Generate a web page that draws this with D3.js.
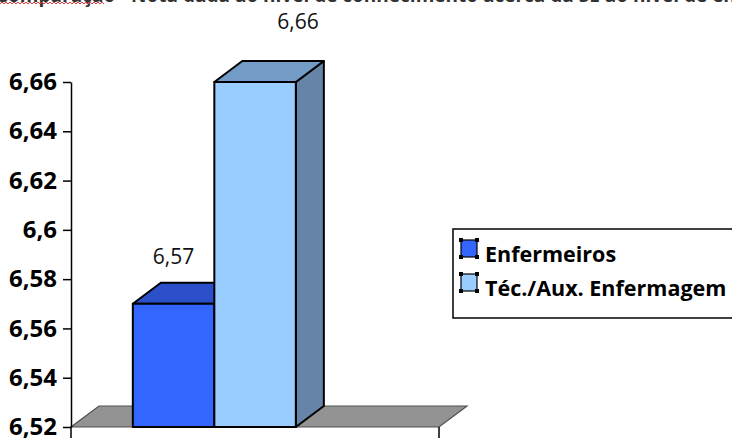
<!DOCTYPE html>
<html>
<head>
<meta charset="utf-8">
<script src="https://cdn.jsdelivr.net/npm/d3@7"></script>
<style>
  html, body { margin: 0; padding: 0; background: #fff; }
  svg { display: block; }
</style>
</head>
<body>
<svg id="chart" width="732" height="438"></svg>
<script>
// Nota média por categoria profissional
const categories = ["Nota"];
const seriesNames = ["Enfermeiros", "Téc./Aux. Enfermagem"];
const seriesValues = [6.57, 6.66];
const valueLabels = ["6,57", "6,66"];
const yTickValues = [6.52, 6.54, 6.56, 6.58, 6.6, 6.62, 6.64, 6.66];
const yTickLabels = ["6,52", "6,54", "6,56", "6,58", "6,6", "6,62", "6,64", "6,66"];
const titleText = "Comparação - Nota dada ao nível de conhecimento acerca da SE ao nível de ensino";

const frontColors = ["#3366FF", "#99CCFF"];
const topColors = ["#2A4FC8", "#729BC6"];
const sideColors = ["#1F3FA0", "#6584A8"];

const svg = d3.select("#chart");
const fontFamily = "'Open Sans', 'Noto Sans', sans-serif";

// 3D depth offset
const dx = 28, dy = -21;

const y = d3.scaleLinear().domain([6.52, 6.66]).range([427, 82]);
const x0 = d3.scaleBand().domain(categories).range([71, 439]).padding(0);
const bw = x0.bandwidth();
const x1 = d3.scaleBand().domain(seriesNames).range([0.168 * bw, 0.611 * bw]).padding(0);

// Caption running off the top edge
svg.append("text")
  .attr("x", -4).attr("y", 1.5)
  .attr("font-family", fontFamily).attr("font-weight", "bold").attr("font-size", 19)
  .attr("fill", "#333")
  .text(titleText);
// spell-check squiggle
const sq = d3.path();
sq.moveTo(0, 4);
for (let i = 0; i < 52; i++) sq.lineTo(2 * (i + 1), i % 2 ? 4 : 2);
svg.append("path").attr("d", sq.toString()).attr("fill", "none")
  .attr("stroke", "#e8383d").attr("stroke-width", 1);

// Floor
const y0 = y(6.52);
const fx0 = x0(categories[0]), fx1 = fx0 + bw;
svg.append("path")
  .attr("d", `M${fx0},${y0}L${fx1},${y0}L${fx1 + dx},${y0 + dy}L${fx0 + dx},${y0 + dy}Z`)
  .attr("fill", "#939393").attr("stroke", "#505050").attr("stroke-width", 1.2);

// Category boundary ticks below the floor
svg.append("g").selectAll("line").data([fx0, fx1]).join("line")
  .attr("x1", d => d).attr("x2", d => d)
  .attr("y1", y0).attr("y2", y0 + 12)
  .attr("stroke", "#000").attr("stroke-width", 1.5);

// Y axis
const yAxis = d3.axisLeft(y)
  .tickValues(yTickValues)
  .tickFormat((d, i) => yTickLabels[i])
  .tickSizeInner(8).tickSizeOuter(0).tickPadding(6);
const gy = svg.append("g").attr("transform", `translate(${fx0},0)`).call(yAxis);
gy.select(".domain").attr("stroke", "#000").attr("stroke-width", 1.5);
gy.selectAll(".tick line").attr("stroke", "#000").attr("stroke-width", 1.5);
gy.selectAll(".tick text")
  .attr("font-family", fontFamily).attr("font-weight", "bold").attr("font-size", 24)
  .attr("fill", "#000");

// Bars
const bars = seriesNames.map((s, i) => {
  const xl = fx0 + x1(s), xr = xl + x1.bandwidth();
  return { s, i, v: seriesValues[i], xl, xr, yt: y(seriesValues[i]) };
});
const gb = svg.append("g")
  .attr("stroke", "#000").attr("stroke-width", 2).attr("stroke-linejoin", "round");
bars.forEach(b => {
  // side
  gb.append("path")
    .attr("d", `M${b.xr},${b.yt}L${b.xr + dx},${b.yt + dy}L${b.xr + dx},${y0 + dy}L${b.xr},${y0}Z`)
    .attr("fill", sideColors[b.i]);
  // top
  gb.append("path")
    .attr("d", `M${b.xl},${b.yt}L${b.xr},${b.yt}L${b.xr + dx},${b.yt + dy}L${b.xl + dx},${b.yt + dy}Z`)
    .attr("fill", topColors[b.i]);
  // front
  gb.append("rect")
    .attr("x", b.xl).attr("y", b.yt)
    .attr("width", b.xr - b.xl).attr("height", y0 - b.yt)
    .attr("fill", frontColors[b.i]);
});

// Value labels
const labelShift = [{ x: 0, y: -40 }, { x: 43, y: -53 }];
svg.append("g").selectAll("text").data(bars).join("text")
  .attr("x", b => (b.xl + b.xr) / 2 + labelShift[b.i].x)
  .attr("y", b => b.yt + labelShift[b.i].y)
  .attr("text-anchor", "middle")
  .attr("font-family", fontFamily).attr("font-size", 21).attr("fill", "#111")
  .text((b, i) => valueLabels[i]);

// Legend
const lg = svg.append("g");
lg.append("rect")
  .attr("x", 453).attr("y", 229).attr("width", 300).attr("height", 89)
  .attr("fill", "#fff").attr("stroke", "#000").attr("stroke-width", 1.5);
const rowBase = [262, 296];
seriesNames.forEach((s, i) => {
  const sx = 461, sy = rowBase[i] - 22, sw = 16, sh = 17;
  lg.append("rect").attr("x", sx).attr("y", sy).attr("width", sw).attr("height", sh)
    .attr("fill", frontColors[i]).attr("stroke", "#000").attr("stroke-width", 1.2);
  [[sx, sy], [sx + sw, sy], [sx, sy + sh], [sx + sw, sy + sh]].forEach(([cx, cy]) => {
    lg.append("rect").attr("x", cx - 2).attr("y", cy - 2).attr("width", 4).attr("height", 4)
      .attr("fill", "#000");
  });
  lg.append("text").attr("x", 485).attr("y", rowBase[i])
    .attr("font-family", fontFamily).attr("font-weight", "bold").attr("font-size", 21.5)
    .attr("fill", "#000").text(s);
});
</script>
</body>
</html>
